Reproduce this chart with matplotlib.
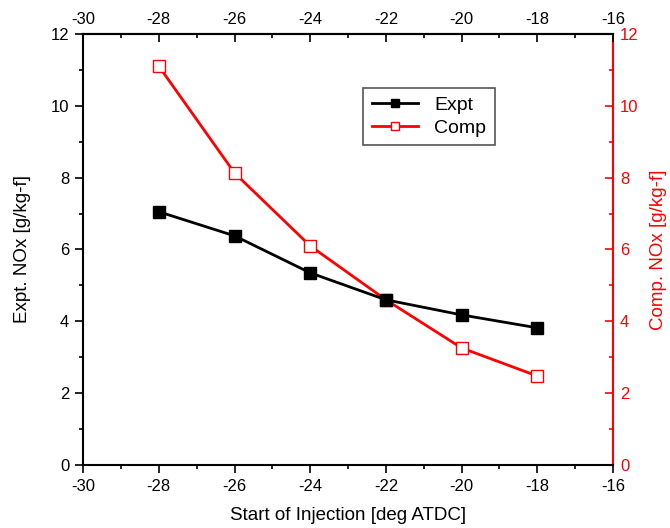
import matplotlib
matplotlib.use("Agg")
import matplotlib.pyplot as plt
from matplotlib.ticker import MultipleLocator

plt.rcParams['font.family'] = ['Liberation Sans', 'DejaVu Sans']
plt.rcParams['axes.unicode_minus'] = False

# start of injection (deg ATDC)
soi = [-28, -26, -24, -22, -20, -18]
expt_nox = [7.05, 6.38, 5.35, 4.60, 4.18, 3.82]
comp_nox = [11.10, 8.13, 6.10, 4.60, 3.26, 2.48]

fig = plt.figure(figsize=(6.7, 5.28), dpi=100)
ax = fig.add_axes([0.124, 0.119, 0.791, 0.817])
ax2 = ax.twinx()

# red series underneath, black on top
ax.set_zorder(ax2.get_zorder() + 1)
ax.patch.set_visible(False)

l2, = ax2.plot(soi, comp_nox, color='red', lw=2, marker='s', ms=9,
               mfc='white', mec='red', mew=1.0, label='Comp')
l1, = ax.plot(soi, expt_nox, color='black', lw=2, marker='s', ms=8,
              mfc='black', mec='black', label='Expt')

ax.set_xlim(-30, -16)
ax.set_ylim(0, 12)
ax2.set_ylim(0, 12)

ax.xaxis.set_major_locator(MultipleLocator(2))
ax.xaxis.set_minor_locator(MultipleLocator(1))
ax.yaxis.set_major_locator(MultipleLocator(2))
ax.yaxis.set_minor_locator(MultipleLocator(1))
ax2.yaxis.set_major_locator(MultipleLocator(2))
ax2.yaxis.set_minor_locator(MultipleLocator(1))

ax.tick_params(axis='both', which='major', direction='out', length=6, width=1.2,
               labelsize=12, pad=4)
ax.tick_params(axis='both', which='minor', direction='out', length=3, width=1.2)
ax.tick_params(axis='y', right=False, which='both')

secx = ax.secondary_xaxis('top')
secx.xaxis.set_major_locator(MultipleLocator(2))
secx.xaxis.set_minor_locator(MultipleLocator(1))
secx.tick_params(which='major', direction='in', length=6, width=1.2, labelsize=12, pad=5)
secx.tick_params(which='minor', direction='in', length=3, width=1.2)
secx.spines['top'].set_linewidth(1.5)

ax2.tick_params(axis='y', which='major', direction='in', length=6, width=1.2,
                colors='red', labelsize=12, pad=5)
ax2.tick_params(axis='y', which='minor', direction='in', length=3, width=1.2, colors='red')

for s in ['left', 'bottom', 'top']:
    ax.spines[s].set_linewidth(1.5)
ax.spines['right'].set_visible(False)
ax2.spines['right'].set_color('red')
ax2.spines['right'].set_linewidth(1.5)
for s in ['left', 'bottom', 'top']:
    ax2.spines[s].set_visible(False)

ax.set_xlabel('Start of Injection [deg ATDC]', fontsize=13.5, labelpad=9)
ax.set_ylabel('Expt. NOx [g/kg-f]', fontsize=13.5, labelpad=14)
ax2.set_ylabel('Comp. NOx [g/kg-f]', fontsize=13.5, color='red', labelpad=8)

leg = ax.legend(handles=[l1, l2], loc='upper left', bbox_to_anchor=(0.528, 0.875),
                borderaxespad=0, fontsize=14, fancybox=False, framealpha=1,
                edgecolor='#555555', handlelength=2.4, markerscale=0.7,
                borderpad=0.45, labelspacing=0.25, handletextpad=0.8)
leg.get_frame().set_linewidth(1.2)

fig.savefig('out.png', dpi=100)
